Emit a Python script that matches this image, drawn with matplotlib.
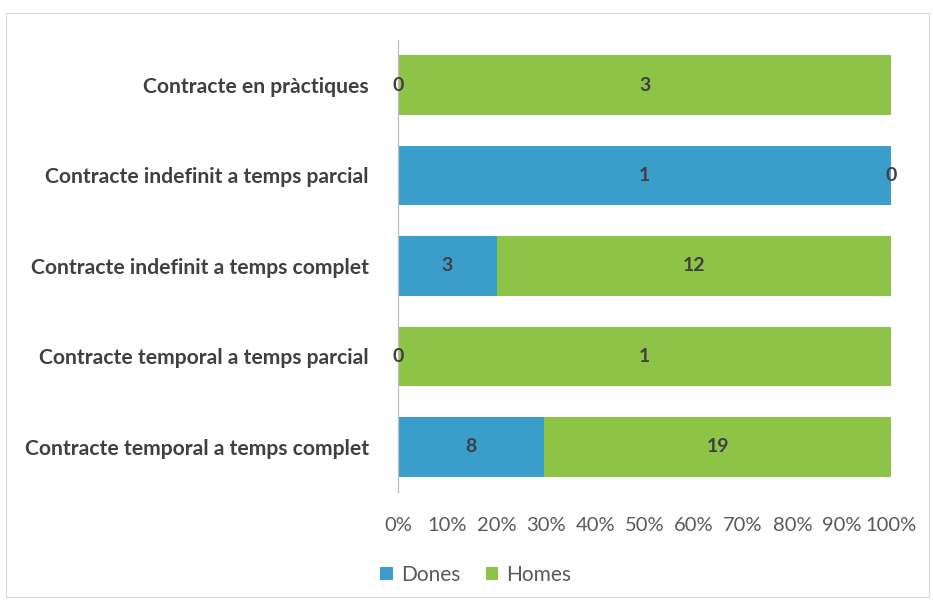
import matplotlib
matplotlib.use("Agg")
import matplotlib.pyplot as plt
from matplotlib.patches import Rectangle
import numpy as np

categories = [
    "Contracte en pràctiques",
    "Contracte indefinit a temps parcial",
    "Contracte indefinit a temps complet",
    "Contracte temporal a temps parcial",
    "Contracte temporal a temps complet",
]
dones = [0, 1, 3, 0, 8]
homes = [3, 0, 12, 1, 19]
series_names = ["Dones", "Homes"]
xticks = [0, 10, 20, 30, 40, 50, 60, 70, 80, 90, 100]

c_blue = "#3a9dca"
c_green = "#8dc447"
txt = "#404040"

plt.rcParams['font.family'] = ['Lato', 'DejaVu Sans']

fig = plt.figure(figsize=(9.33, 6.03), dpi=100)
fig.patches.append(Rectangle((0.006, 0.01), 0.99, 0.968, transform=fig.transFigure,
                             fill=False, edgecolor="#d9d9d9", linewidth=0.8))
ax = fig.add_axes([0.4266, 0.184, 0.5284, 0.75])

d = np.array(dones, float)
h = np.array(homes, float)
tot = d + h
dp = d / tot * 100
hp = h / tot * 100
y = np.arange(len(categories))[::-1]

b1 = ax.barh(y, dp, height=0.66, color=c_blue, label=series_names[0])
b2 = ax.barh(y, hp, left=dp, height=0.66, color=c_green, label=series_names[1])

for i in range(len(categories)):
    ax.text(dp[i] / 2, y[i], str(dones[i]), ha="center", va="center",
            fontsize=14, fontweight="bold", color=txt)
    ax.text(dp[i] + hp[i] / 2, y[i], str(homes[i]), ha="center", va="center",
            fontsize=14, fontweight="bold", color=txt)

ax.set_xlim(0, 100)
ax.set_ylim(-0.5, len(categories) - 0.5)
ax.set_yticks(y)
ax.set_yticklabels(categories, fontsize=15.2, fontweight="bold", color=txt)
ax.set_xticks(xticks)
ax.set_xticklabels([f"{t}%" for t in xticks], fontsize=14.5, color="#595959")
ax.tick_params(axis="both", length=0)
ax.tick_params(axis="x", pad=18)
ax.tick_params(axis="y", pad=21)
for s in ["top", "right", "bottom"]:
    ax.spines[s].set_visible(False)
ax.spines["left"].set_color("#bfbfbf")
ax.spines["left"].set_linewidth(0.9)

leg = fig.legend(handles=[b1, b2], loc="center", bbox_to_anchor=(0.51, 0.047),
                 ncol=2, frameon=False, fontsize=15, handlelength=0.6,
                 handleheight=0.6, handletextpad=0.4, columnspacing=1.2)
for t in leg.get_texts():
    t.set_color("#595959")

fig.savefig("out.png", dpi=100)
